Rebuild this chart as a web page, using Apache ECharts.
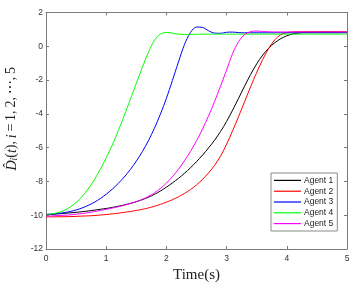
<!DOCTYPE html>
<html>
<head>
<meta charset="utf-8">
<script src="https://cdn.jsdelivr.net/npm/echarts@6/dist/echarts.min.js"></script>
<style>html,body{margin:0;padding:0;background:#fff}#c{width:360px;height:285px}</style>
</head>
<body>
<div id="c"></div>
<script>
var xTicks = [0, 1, 2, 3, 4, 5];
var yTicks = [-12, -10, -8, -6, -4, -2, 0, 2];
var names = ['Agent 1', 'Agent 2', 'Agent 3', 'Agent 4', 'Agent 5'];

var time = [0, 0.1, 0.2, 0.3, 0.4, 0.5, 0.6, 0.7, 0.8, 0.9,
            1.0, 1.1, 1.2, 1.3, 1.4, 1.5, 1.6, 1.7, 1.8, 1.9,
            2.0, 2.1, 2.2, 2.3, 2.4, 2.5, 2.6, 2.7, 2.8, 2.9,
            3.0, 3.1, 3.2, 3.3, 3.4, 3.5, 3.6, 3.7, 3.8, 3.9,
            4.0, 4.1, 4.2, 4.3, 4.4, 4.5, 4.6, 4.7, 4.8, 4.9, 5.0];

var agent1 = [-9.97, -9.95, -9.92, -9.89, -9.86, -9.83, -9.79, -9.75, -9.7, -9.65,
              -9.6, -9.54, -9.47, -9.39, -9.3, -9.2, -9.08, -8.94, -8.77, -8.57,
              -8.34, -8.09, -7.82, -7.52, -7.19, -6.83, -6.44, -6.02, -5.56, -5.04,
              -4.45, -3.78, -3.07, -2.35, -1.66, -1.04, -0.52, -0.11, 0.21, 0.45,
              0.62, 0.73, 0.79, 0.82, 0.83, 0.83, 0.83, 0.83, 0.83, 0.83, 0.83];

var agent2 = [-10.1, -10.1, -10.09, -10.09, -10.08, -10.07, -10.05, -10.04, -10.02, -9.99,
              -9.96, -9.92, -9.88, -9.83, -9.78, -9.72, -9.65, -9.57, -9.47, -9.36,
              -9.23, -9.08, -8.91, -8.71, -8.48, -8.21, -7.88, -7.5, -7.05, -6.5,
              -5.8, -5.0, -4.15, -3.27, -2.39, -1.55, -0.78, -0.12, 0.38, 0.69,
              0.81, 0.85, 0.86, 0.86, 0.86, 0.86, 0.86, 0.86, 0.86, 0.86, 0.86];

var agent3 = [-9.95, -9.93, -9.9, -9.85, -9.78, -9.69, -9.57, -9.42, -9.24, -9.02,
              -8.76, -8.46, -8.12, -7.74, -7.3, -6.8, -6.24, -5.6, -4.86, -4.02,
              -3.08, -2.02, -0.93, 0.1, 0.82, 1.14, 1.12, 0.92, 0.78, 0.77,
              0.83, 0.84, 0.81, 0.8, 0.8, 0.8, 0.8, 0.8, 0.8, 0.8,
              0.8, 0.8, 0.8, 0.8, 0.8, 0.8, 0.8, 0.8, 0.8, 0.8, 0.8];

var agent4 = [-9.95, -9.92, -9.85, -9.72, -9.52, -9.25, -8.9, -8.45, -7.92, -7.3,
              -6.6, -5.85, -5.0, -4.1, -3.15, -2.2, -1.25, -0.37, 0.35, 0.72,
              0.82, 0.78, 0.72, 0.7, 0.7, 0.71, 0.72, 0.72, 0.72, 0.72,
              0.72, 0.72, 0.72, 0.72, 0.72, 0.72, 0.72, 0.72, 0.72, 0.72,
              0.72, 0.72, 0.72, 0.72, 0.72, 0.72, 0.72, 0.72, 0.72, 0.72, 0.72];

var agent5 = [-10.05, -10.04, -10.02, -10.0, -9.98, -9.94, -9.9, -9.85, -9.79, -9.72,
              -9.65, -9.58, -9.5, -9.41, -9.31, -9.2, -9.06, -8.89, -8.68, -8.42,
              -8.1, -7.72, -7.28, -6.78, -6.22, -5.6, -4.9, -4.12, -3.27, -2.35,
              -1.4, -0.42, 0.28, 0.7, 0.87, 0.9, 0.88, 0.86, 0.85, 0.85,
              0.85, 0.85, 0.85, 0.85, 0.85, 0.85, 0.85, 0.85, 0.85, 0.85, 0.85];

var colors = ['#000000', '#ff0000', '#0000ff', '#00ff00', '#ff00ff'];
var vals = [agent1, agent2, agent3, agent4, agent5];

function pairs(t, v) { return t.map(function (x, i) { return [x, v[i]]; }); }

var axisCol = '#7a7a7a';
var labCol = '#333333';
var sans = 'Liberation Sans, Arial, sans-serif';
var serif = 'Liberation Serif, DejaVu Serif, serif';
function baseAxis(extra) {
  var a = {
    type: 'value',
    axisLine: { show: true, onZero: false, lineStyle: { color: axisCol, width: 1 } },
    axisTick: { show: true, inside: true, length: 3, lineStyle: { color: axisCol } },
    splitLine: { show: false },
    axisLabel: { show: false }
  };
  for (var k in extra) a[k] = extra[k];
  return a;
}

var series = names.map(function (n, i) {
  return {
    name: n, type: 'line', data: pairs(time, vals[i]),
    showSymbol: false, symbol: 'none', smooth: 0.3,
    lineStyle: { color: colors[i], width: 1 }, itemStyle: { color: colors[i] },
    xAxisIndex: 0, yAxisIndex: 0, animation: false, z: 3
  };
});

var option = {
  animation: false,
  backgroundColor: '#ffffff',
  grid: { left: 46, right: 13, top: 12.5, bottom: 36, containLabel: false, outerBoundsMode: 'none' },
  xAxis: [
    baseAxis({ position: 'bottom', min: xTicks[0], max: xTicks[xTicks.length - 1], interval: 1,
      axisLabel: { show: true, color: labCol, fontFamily: sans, fontSize: 8.5, margin: 5 },
      name: 'Time(s)', nameLocation: 'middle', nameGap: 17,
      nameTextStyle: { fontFamily: serif, fontSize: 15, color: '#222' } }),
    baseAxis({ position: 'top', min: xTicks[0], max: xTicks[xTicks.length - 1], interval: 1 })
  ],
  yAxis: [
    baseAxis({ position: 'left', min: yTicks[0], max: yTicks[yTicks.length - 1], interval: 2,
      axisLabel: { show: true, color: labCol, fontFamily: sans, fontSize: 8.5, margin: 3 },
      name: '{v|D\u0302}{s|i}{n|(}{v|t}{n|),\u2009}{v|i}{n|\u2009=\u20091,\u20092,\u2009\u22EF,\u20095}',
      nameLocation: 'middle', nameGap: 21, nameRotate: 90,
      nameTextStyle: {
        fontFamily: serif, fontSize: 14, color: '#222', padding: [0, 0, 0, 24],
        rich: {
          v: { fontFamily: serif, fontStyle: 'italic', fontSize: 14, color: '#222' },
          n: { fontFamily: serif, fontSize: 14, color: '#222' },
          s: { fontFamily: serif, fontStyle: 'italic', fontSize: 9.5, color: '#222', padding: [6, 0, 0, 0] }
        }
      } }),
    baseAxis({ position: 'right', min: yTicks[0], max: yTicks[yTicks.length - 1], interval: 2 })
  ],
  legend: {
    orient: 'vertical', left: 271, top: 173,
    data: names.map(function (n) { return { name: n, icon: 'rect' }; }),
    itemWidth: 27, itemHeight: 1.2, itemGap: 0,
    padding: [2, 4, 2, 3],
    borderColor: '#8a8a8a', borderWidth: 1, backgroundColor: '#ffffff',
    textStyle: { fontFamily: sans, fontSize: 8.5, color: '#222', lineHeight: 10.8, padding: [0, 0, 0, -2] }
  },
  series: series
};

var chart = echarts.init(document.getElementById('c'), null, { renderer: 'canvas' });
chart.setOption(option);
</script>
</body>
</html>
